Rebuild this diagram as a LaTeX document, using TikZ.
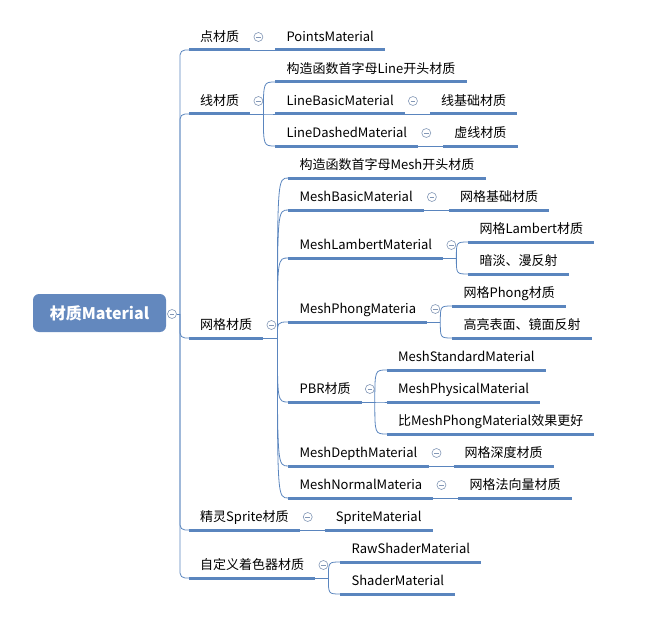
\documentclass[tikz,border=0pt]{standalone}
\usepackage{fontspec}
\setmainfont{Noto Sans CJK SC}
\usetikzlibrary{positioning}
\definecolor{mapblue}{HTML}{5A85BE}
\definecolor{rootblue}{HTML}{6388BE}
\definecolor{foldgray}{HTML}{8297B6}
\tikzset{
  uline/.style={draw=mapblue,line width=3pt},
  link/.style={draw=mapblue,line width=0.8pt},
  topic/.style={anchor=south west,inner xsep=11pt,inner ysep=8pt,text depth=0pt,
    font=\fontsize{13}{15}\selectfont,
    append after command={(\tikzlastnode.south west) edge[uline] (\tikzlastnode.south east)}},
  kid/.style={topic,right=25pt of #1,anchor=south west},
  root/.style={fill=rootblue,rounded corners=6pt,minimum width=133pt,minimum height=38pt,
    text=white,font=\fontsize{16}{19}\selectfont\bfseries},
  fold/.style={circle,draw=foldgray,line width=0.6pt,minimum size=9pt,inner sep=0pt,fill=white,
    path picture={\draw[foldgray,line width=0.6pt]
      ([xshift=-2.3pt]path picture bounding box.center) -- ([xshift=2.3pt]path picture bounding box.center);}}
}
\begin{document}
\begin{tikzpicture}[x=1pt,y=-1pt]
  \useasboundingbox (0,0) rectangle (662,634);
  \node[root] (root) at (99.5,313) {材质Material};
  \node[fold] (froot) at (172,314) {};
  \coordinate (trunk) at (180,314);

  \node[topic] (dian) at (189,50) {点材质};
  \node[topic] (xian) at (189,114) {线材质};
  \node[topic] (wangge) at (189,338) {网格材质};
  \node[topic] (jingling) at (189,530) {精灵Sprite材质};
  \node[topic] (zidingyi) at (189,578) {自定义着色器材质};

  \node[kid=dian.south east] (points) {PointsMaterial};

  \node[kid=xian.south east,yshift=32pt] (lhead) {构造函数首字母Line开头材质};
  \node[kid=xian.south east] (lbasic) {LineBasicMaterial};
  \node[kid=xian.south east,yshift=-32pt] (ldash) {LineDashedMaterial};
  \node[kid=lbasic.south east] (lbasicz) {线基础材质};
  \node[kid=ldash.south east] (ldashz) {虚线材质};

  \node[kid=wangge.south east,yshift=160pt] (mhead) {构造函数首字母Mesh开头材质};
  \node[kid=wangge.south east,yshift=128pt] (mbasic) {MeshBasicMaterial};
  \node[kid=wangge.south east,yshift=80pt] (mlambert) {MeshLambertMaterial};
  \node[kid=wangge.south east,yshift=16pt] (mphong) {MeshPhongMateria};
  \node[kid=wangge.south east,yshift=-64pt] (pbr) {PBR材质};
  \node[kid=wangge.south east,yshift=-128pt] (mdepth) {MeshDepthMaterial};
  \node[kid=wangge.south east,yshift=-160pt] (mnormal) {MeshNormalMateria};

  \node[kid=mbasic.south east] (mbasicz) {网格基础材质};
  \node[kid=mlambert.south east,yshift=16pt] (lamberta) {网格Lambert材质};
  \node[kid=mlambert.south east,yshift=-16pt] (lambertb) {暗淡、漫反射};
  \node[kid=mphong.south east,yshift=16pt] (phonga) {网格Phong材质};
  \node[kid=mphong.south east,yshift=-16pt] (phongb) {高亮表面、镜面反射};
  \node[kid=pbr.south east,yshift=32pt] (pbra) {MeshStandardMaterial};
  \node[kid=pbr.south east] (pbrb) {MeshPhysicalMaterial};
  \node[kid=pbr.south east,yshift=-32pt] (pbrc) {比MeshPhongMaterial效果更好};
  \node[kid=mdepth.south east] (mdepthz) {网格深度材质};
  \node[kid=mnormal.south east] (mnormalz) {网格法向量材质};

  \node[kid=jingling.south east] (sprite) {SpriteMaterial};
  \node[kid=zidingyi.south east,yshift=16pt] (rawshader) {RawShaderMaterial};
  \node[kid=zidingyi.south east,yshift=-16pt] (shader) {ShaderMaterial};

  \draw[link] (froot) -- (trunk);
  \foreach \n in {dian,xian,wangge,jingling,zidingyi}
    \draw[link,rounded corners=5pt] (trunk) |- (\n.south west);

  \draw[link] (dian.south east) -- (points.south west);
  \draw[link] (lbasic.south east) -- (lbasicz.south west);
  \draw[link] (ldash.south east) -- (ldashz.south west);
  \draw[link] (mbasic.south east) -- (mbasicz.south west);
  \draw[link] (mdepth.south east) -- (mdepthz.south west);
  \draw[link] (mnormal.south east) -- (mnormalz.south west);
  \draw[link] (jingling.south east) -- (sprite.south west);

  \coordinate (bxian) at ([xshift=13pt]xian.south east);
  \coordinate (bwangge) at ([xshift=14pt]wangge.south east);
  \coordinate (blambert) at ([xshift=13pt]mlambert.south east);
  \coordinate (bphong) at ([xshift=13pt]mphong.south east);
  \coordinate (bpbr) at ([xshift=13pt]pbr.south east);
  \coordinate (bzidingyi) at ([xshift=13pt]zidingyi.south east);
  \draw[link] (xian.south east) -- (bxian);
  \draw[link] (wangge.south east) -- (bwangge);
  \draw[link] (mlambert.south east) -- (blambert);
  \draw[link] (mphong.south east) -- (bphong);
  \draw[link] (pbr.south east) -- (bpbr);
  \draw[link] (zidingyi.south east) -- (bzidingyi);
  \foreach \c in {lhead,lbasic,ldash}
    \draw[link] (bxian) .. controls (bxian |- \c.south west) .. (\c.south west);
  \foreach \c in {mhead,mbasic,mlambert,mphong,pbr,mdepth,mnormal}
    \draw[link] (bwangge) .. controls (bwangge |- \c.south west) .. (\c.south west);
  \foreach \c in {lamberta,lambertb}
    \draw[link] (blambert) .. controls (blambert |- \c.south west) .. (\c.south west);
  \foreach \c in {phonga,phongb}
    \draw[link] (bphong) .. controls (bphong |- \c.south west) .. (\c.south west);
  \foreach \c in {pbra,pbrb,pbrc}
    \draw[link] (bpbr) .. controls (bpbr |- \c.south west) .. (\c.south west);
  \foreach \c in {rawshader,shader}
    \draw[link] (bzidingyi) .. controls (bzidingyi |- \c.south west) .. (\c.south west);

  \foreach \n in {dian,xian,lbasic,ldash,wangge,mbasic,mlambert,mphong,pbr,mdepth,mnormal,jingling,zidingyi}
    \node[fold] (f\n) at ([xshift=8pt,yshift=13pt]\n.south east) {};
\end{tikzpicture}
\end{document}
